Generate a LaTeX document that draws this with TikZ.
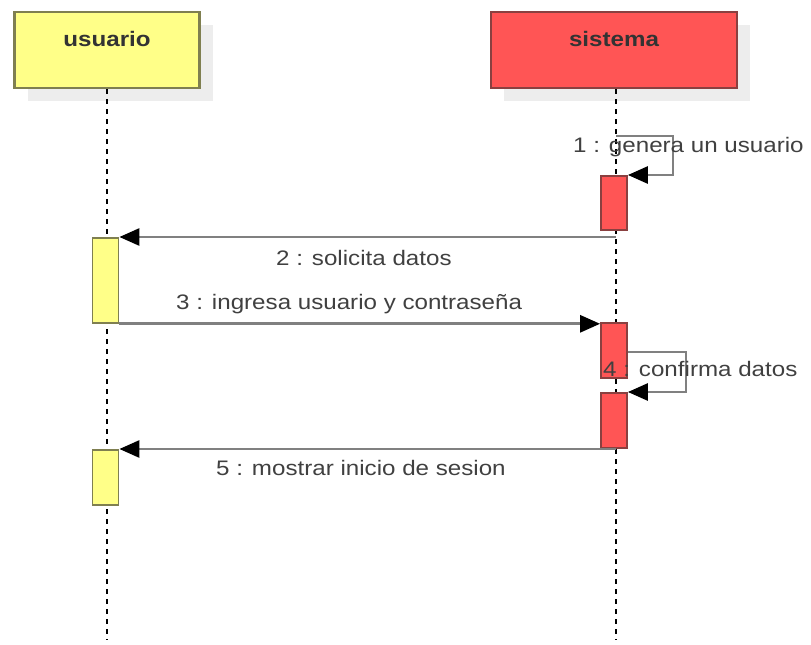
\documentclass[tikz,border=0pt]{standalone}
\usepackage{fontspec}
\setmainfont{Liberation Sans}[FakeStretch=1.15]
\usetikzlibrary{positioning,arrows.meta}

\definecolor{actyellow}{HTML}{FFFF88}
\definecolor{actred}{HTML}{FF5555}
\definecolor{edgeyellow}{HTML}{7F7F50}
\definecolor{edgered}{HTML}{8A4040}
\definecolor{msggray}{HTML}{808080}
\definecolor{textgray}{HTML}{404040}

\tikzset{
  actor/.style={draw, line width=2.5pt, minimum width=#1, minimum height=76pt, inner sep=0pt},
  actorshadow/.style={fill=black!7, draw=none, minimum width=#1, minimum height=76pt, inner sep=0pt},
  actorlabel/.style={font=\fontsize{21}{24}\selectfont\bfseries, text=black!80},
  lifeline/.style={line width=1.6pt, dash pattern=on 5pt off 5pt},
  activation/.style={draw, line width=1.8pt, minimum width=26pt, minimum height=#1, inner sep=0pt, anchor=north},
  msg/.style={line width=2.8pt, msggray, -{Triangle[length=20pt,width=17pt,color=black]}},
  msglabel/.style={font=\fontsize{21}{24}\selectfont, text=textgray, anchor=base west, inner sep=0pt}
}

\begin{document}
\begin{tikzpicture}[x=1pt, y=-1pt]
  \useasboundingbox (0,0) rectangle (811,645);

  % actor heads, with their shadows
  \node [actorshadow=185pt] (usuario-shadow) at (120,63) {};
  \node [actorshadow=246pt] (sistema-shadow) at (627,63) {};
  \node [actor=185pt, fill=actyellow, draw=edgeyellow] (usuario) at (107,50) {};
  \node [actor=246pt, fill=actred, draw=edgered] (sistema) at (614,50) {};
  \node [actorlabel] (usuario-text) at (107,39) {usuario};
  \node [actorlabel] (sistema-text) at (614,39) {sistema};

  % lifelines
  \coordinate (usuario-top) at (107,89);
  \coordinate (usuario-end) at (107,640);
  \coordinate (sistema-top) at (616,89);
  \coordinate (sistema-end) at (616,640);
  \draw [lifeline] (usuario-top) -- (usuario-end);
  \draw [lifeline] (sistema-top) -- (sistema-end);

  % activation bars
  \node [activation=54pt, fill=actred, draw=edgered] (s1) at (614,175) {};
  \node [activation=85pt, fill=actyellow, draw=edgeyellow] (u1) at (105.5,237) {};
  \node [activation=55pt, fill=actred, draw=edgered] (s2) at (614,322) {};
  \node [activation=55pt, fill=actred, draw=edgered] (s3) at (614,392) {};
  \node [activation=55pt, fill=actyellow, draw=edgeyellow] (u2) at (105.5,449) {};

  % messages
  \coordinate (m1-start) at (616,136);
  \draw [msg] (m1-start) -- ++(57,0) |- (s1.north east);
  \draw [msg] (u1.north east -| sistema-top) -- (u1.north east);
  \draw [msg] (u1.south east) -- (u1.south east -| s2.west);
  \draw [msg] (s2.east |- 0,352) -- ++(58,0) |- (s3.north east);
  \draw [msg] (u2.north east -| sistema-top) -- (u2.north east);

  % message labels
  \node [msglabel] (m1-text) at (573,152) {1 : genera un usuario};
  \node [msglabel] (m2-text) at (276,265) {2 : solicita datos};
  \node [msglabel] (m3-text) at (176,309) {3 : ingresa usuario y contraseña};
  \node [msglabel] (m4-text) at (603,376) {4 : confirma datos};
  \node [msglabel] (m5-text) at (216,475) {5 : mostrar inicio de sesion};

\end{tikzpicture}
\end{document}
